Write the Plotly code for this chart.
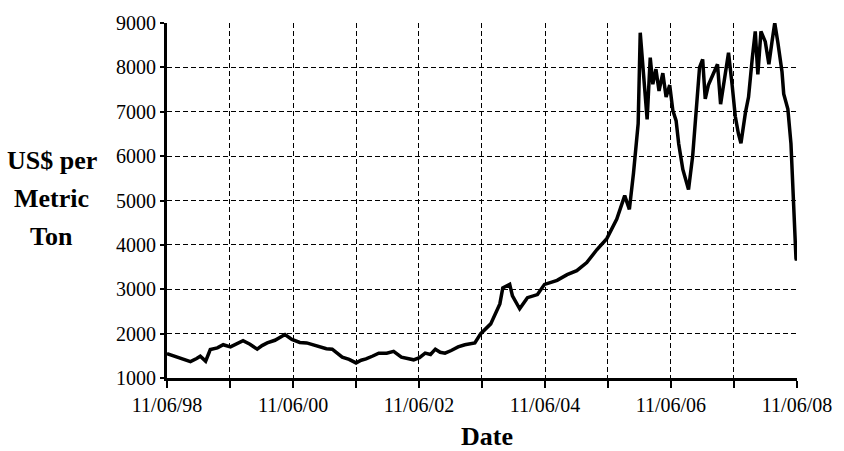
import plotly.graph_objects as go

dates = [
    "1998-11-06", "1999-01-15", "1999-03-22", "1999-04-27", "1999-05-18", "1999-06-18",
    "1999-07-15", "1999-08-25", "1999-09-28", "1999-11-09", "1999-12-18", "2000-01-21",
    "2000-03-01", "2000-04-12", "2000-05-10", "2000-06-09", "2000-07-24", "2000-09-20",
    "2000-10-30", "2000-12-15", "2001-01-24", "2001-02-27", "2001-04-09", "2001-05-18",
    "2001-06-21", "2001-08-18", "2001-09-27", "2001-11-06", "2001-12-06", "2002-01-03",
    "2002-02-08", "2002-03-18", "2002-05-03", "2002-06-12", "2002-07-27", "2002-08-30",
    "2002-10-06", "2002-11-09", "2002-12-12", "2003-01-12", "2003-02-09", "2003-03-09",
    "2003-04-06", "2003-05-12", "2003-06-21", "2003-07-30", "2003-09-26", "2003-10-30",
    "2003-12-27", "2004-02-18", "2004-03-06", "2004-04-15", "2004-05-01", "2004-06-12",
    "2004-07-27", "2004-09-23", "2004-11-03", "2004-12-06", "2005-01-15", "2005-03-14",
    "2005-05-09", "2005-07-06", "2005-09-02", "2005-10-30", "2005-12-27", "2006-02-11",
    "2006-03-10", "2006-04-03", "2006-04-30", "2006-05-12", "2006-06-03", "2006-06-21",
    "2006-07-09", "2006-07-24", "2006-08-11", "2006-08-29", "2006-09-20", "2006-10-09",
    "2006-10-30", "2006-11-17", "2006-12-06", "2006-12-21", "2007-01-14", "2007-02-01",
    "2007-02-16", "2007-03-12", "2007-04-03", "2007-04-21", "2007-05-09", "2007-05-24",
    "2007-06-11", "2007-07-11", "2007-08-03", "2007-08-21", "2007-09-06", "2007-10-06",
    "2007-10-27", "2007-11-14", "2007-12-02", "2007-12-17", "2008-01-12", "2008-01-30",
    "2008-02-21", "2008-03-09", "2008-03-24", "2008-04-11", "2008-05-06", "2008-05-27",
    "2008-06-14", "2008-06-30", "2008-07-18", "2008-08-11", "2008-08-21", "2008-09-14",
    "2008-10-02", "2008-10-12", "2008-10-24", "2008-10-31", "2008-11-03", "2008-11-06",
]

prices = [
    1550, 1450, 1370, 1440, 1490, 1380,
    1640, 1680, 1750, 1700, 1780, 1840,
    1760, 1650, 1730, 1790, 1850, 1980,
    1870, 1800, 1790, 1750, 1700, 1660,
    1650, 1470, 1420, 1340, 1400, 1430,
    1490, 1560, 1560, 1600, 1470, 1440,
    1410, 1460, 1560, 1530, 1650, 1580,
    1560, 1620, 1700, 1750, 1790, 2000,
    2220, 2670, 3030, 3110, 2850, 2560,
    2810, 2880, 3110, 3150, 3200, 3330,
    3420, 3600, 3890, 4140, 4580, 5110,
    4800, 5620, 6730, 8780, 7700, 6830,
    8220, 7620, 7960, 7470, 7870, 7330,
    7600, 7030, 6800, 6280, 5700, 5480,
    5250, 6000, 7170, 8000, 8180, 7290,
    7600, 7870, 8070, 7170, 7600, 8330,
    7600, 6900, 6510, 6290, 6980, 7330,
    8220, 8810, 7840, 8810, 8580, 8070,
    8580, 9000, 8560, 7900, 7400, 7060,
    6280, 5250, 4500, 3700, 3650, 3800,
]

x_tick_dates = [
    "1998-11-06", "1999-11-06", "2000-11-06", "2001-11-06", "2002-11-06", "2003-11-06",
    "2004-11-06", "2005-11-06", "2006-11-06", "2007-11-06", "2008-11-06",
]
x_tick_labels = ["11/06/98", "", "11/06/00", "", "11/06/02", "", "11/06/04", "", "11/06/06", "", "11/06/08"]
y_ticks = [1000, 2000, 3000, 4000, 5000, 6000, 7000, 8000, 9000]
y_title_lines = ["US$ per", "Metric", "Ton"]
x_title = "Date"

FONT = "Liberation Serif"
W, H = 844, 451
L, R, T, B = 167, 42, 16, 73
PH = H - T - B
PW = W - L - R


def py(pix):
    """Paper y fraction for a pixel row measured from top of figure."""
    return (H - B - pix) / PH


def px(pix):
    return (pix - L) / PW


fig = go.Figure()
fig.add_trace(go.Scatter(
    x=dates, y=prices, mode="lines",
    line=dict(color="black", width=3.5),
    showlegend=False, hoverinfo="skip",
))

annotations = []
for txt, row in zip(y_title_lines, [156, 195, 234]):
    annotations.append(dict(
        text="<b>%s</b>" % txt, xref="paper", yref="paper",
        x=px(51), y=py(row), xanchor="center", yanchor="middle",
        showarrow=False, font=dict(family=FONT, size=26, color="black")))
annotations.append(dict(
    text="<b>%s</b>" % x_title, xref="paper", yref="paper",
    x=px(490), y=py(438), xanchor="center", yanchor="middle",
    showarrow=False, font=dict(family=FONT, size=26, color="black")))

fig.update_layout(
    width=W, height=H,
    margin=dict(l=L, r=R, t=T, b=B),
    paper_bgcolor="white", plot_bgcolor="white",
    font=dict(family=FONT, size=20, color="black"),
    xaxis=dict(
        type="date",
        range=[x_tick_dates[0], x_tick_dates[-1]],
        tickmode="array", tickvals=x_tick_dates, ticktext=x_tick_labels,
        showgrid=True, gridcolor="black", gridwidth=1, griddash="5px,3px",
        showline=True, linecolor="black", linewidth=3,
        ticks="outside", ticklen=7, tickwidth=2, tickcolor="black",
        tickfont=dict(family=FONT, size=20, color="black"),
        zeroline=False,
    ),
    yaxis=dict(
        range=[1000, 9000],
        tickmode="array", tickvals=y_ticks, ticktext=[str(v) for v in y_ticks],
        showgrid=True, gridcolor="black", gridwidth=1, griddash="5px,3px",
        showline=True, linecolor="black", linewidth=3,
        ticks="outside", ticklen=4, tickwidth=2, tickcolor="black",
        tickfont=dict(family=FONT, size=20, color="black"),
        zeroline=False,
    ),
    annotations=annotations,
)

fig.write_html("out.html", config={"displayModeBar": False},
               post_script="document.body.style.margin='0';")
